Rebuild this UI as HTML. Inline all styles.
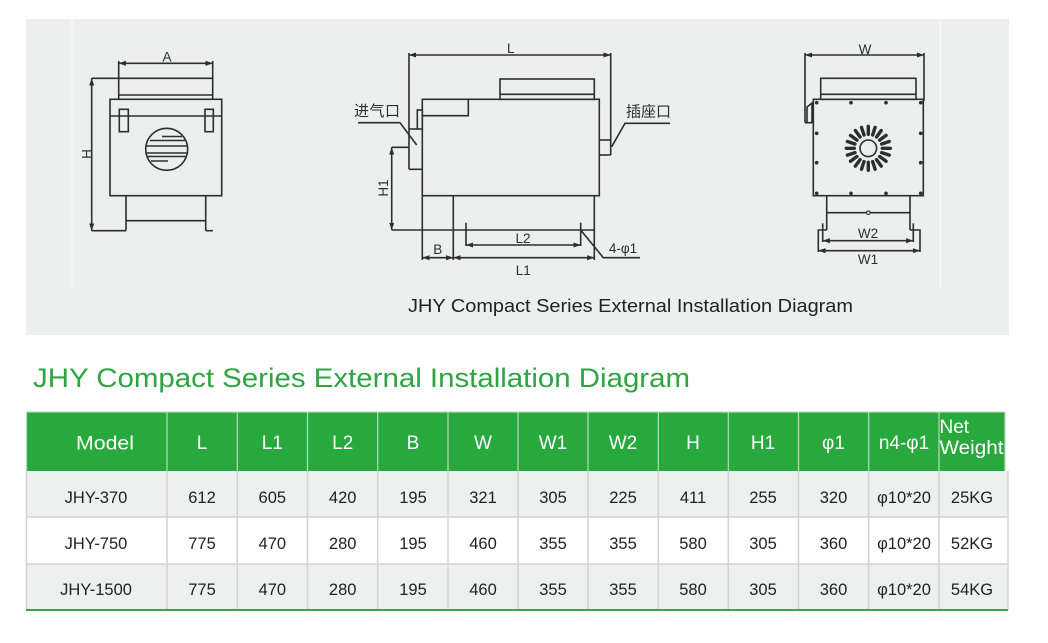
<!DOCTYPE html>
<html><head><meta charset="utf-8"><style>
html,body{margin:0;padding:0;background:#fff;}
svg{display:block;}
text{font-family:"Liberation Sans","Noto Sans CJK SC",sans-serif;}
</style></head><body>
<svg width="1048" height="643" viewBox="0 0 1048 643" xmlns="http://www.w3.org/2000/svg">
<defs>
<marker id="a" viewBox="0 0 10 10" refX="10" refY="5" markerWidth="4.5" markerHeight="4.5" orient="auto-start-reverse"><path d="M0,1.5 L10,5 L0,8.5 z" fill="#2e2e2e"/></marker>
</defs>
<rect x="0" y="0" width="1048" height="643" fill="#fff"/>
<!-- panel -->
<rect x="26" y="19" width="983" height="316" fill="#edeeee"/>
<line x1="72" y1="19" x2="72" y2="289" stroke="#fff" stroke-width="1" opacity="0.8"/>
<line x1="940.5" y1="19" x2="940.5" y2="289" stroke="#fff" stroke-width="1" opacity="0.8"/>

<g stroke="#2e2e2e" stroke-width="1.6" fill="none">
<!-- LEFT DRAWING -->
<line x1="118.7" y1="63.3" x2="212.7" y2="63.3" marker-start="url(#a)" marker-end="url(#a)"/>
<line x1="118.7" y1="61" x2="118.7" y2="99.3"/>
<line x1="212.7" y1="61" x2="212.7" y2="99.3"/>
<line x1="91.7" y1="78.3" x2="212.7" y2="78.3"/>
<line x1="118.7" y1="95" x2="212.7" y2="95"/>
<rect x="110" y="99.3" width="111.7" height="96.4"/>
<line x1="110" y1="116" x2="221.7" y2="116"/>
<rect x="119.3" y="109.3" width="9" height="22.4"/>
<rect x="205" y="109.3" width="8.3" height="22.4"/>
<circle cx="166.7" cy="149.3" r="21"/>
<line x1="162" y1="136.5" x2="182" y2="136.5"/>
<line x1="150" y1="140.5" x2="185" y2="140.5"/>
<line x1="146.2" y1="146" x2="187.2" y2="146"/>
<line x1="146" y1="153" x2="187.4" y2="153"/>
<line x1="147" y1="156.5" x2="186.5" y2="156.5"/>
<line x1="151" y1="161" x2="168" y2="161"/>
<line x1="126" y1="195.7" x2="126" y2="230.7"/>
<line x1="205.7" y1="195.7" x2="205.7" y2="230.7"/>
<line x1="126" y1="220.7" x2="205.7" y2="220.7"/>
<line x1="205.7" y1="230.7" x2="213" y2="230.7"/>
<line x1="91.7" y1="78.3" x2="91.7" y2="230.7" marker-start="url(#a)" marker-end="url(#a)"/>
<line x1="91.7" y1="230.7" x2="126" y2="230.7"/>

<!-- MIDDLE DRAWING -->
<line x1="409" y1="55" x2="610.7" y2="55" marker-start="url(#a)" marker-end="url(#a)"/>
<line x1="409" y1="53" x2="409" y2="169.3"/>
<line x1="409" y1="129" x2="417.3" y2="129"/>
<rect x="417.3" y="110" width="5" height="19"/>
<line x1="409" y1="169.3" x2="422.3" y2="169.3"/>
<line x1="610.7" y1="53" x2="610.7" y2="155"/>
<line x1="599.3" y1="140" x2="610.7" y2="140"/>
<line x1="599.3" y1="155" x2="610.7" y2="155"/>
<rect x="422.3" y="99.3" width="177" height="96.4"/>
<polyline points="422.3,115.7 468.3,115.7 468.3,99.3"/>
<rect x="500" y="79" width="94.3" height="20.3"/>
<line x1="500" y1="94.3" x2="594.3" y2="94.3"/>
<line x1="422.3" y1="195.7" x2="422.3" y2="260"/>
<line x1="453.3" y1="195.7" x2="453.3" y2="260"/>
<line x1="594.3" y1="195.7" x2="594.3" y2="260"/>
<line x1="391.7" y1="230" x2="594.3" y2="230"/>
<line x1="391.7" y1="147.3" x2="391.7" y2="230" marker-start="url(#a)" marker-end="url(#a)"/>
<line x1="391.7" y1="147.3" x2="409" y2="147.3"/>
<line x1="466" y1="222.7" x2="466" y2="246"/>
<line x1="580.7" y1="222.7" x2="580.7" y2="246"/>
<line x1="466" y1="245" x2="580.7" y2="245" marker-start="url(#a)" marker-end="url(#a)"/>
<line x1="422.3" y1="257.7" x2="453.3" y2="257.7" marker-start="url(#a)" marker-end="url(#a)"/>
<line x1="453.3" y1="257.7" x2="594.3" y2="257.7" marker-start="url(#a)" marker-end="url(#a)"/>
<polyline points="580.7,230 603.3,257.7 640,257.7"/>
<polyline points="358,122.7 400,122.7 416.7,145"/>
<polyline points="670,123.3 625,123.3 611.7,146.7"/>

<!-- RIGHT DRAWING -->
<line x1="805" y1="55" x2="924" y2="55" marker-start="url(#a)" marker-end="url(#a)"/>
<line x1="805" y1="53" x2="805" y2="122.7"/>
<line x1="924" y1="53" x2="924" y2="100.7"/>
<path d="M805,122.7 L812,122.7 L812,103 L807,107 L807,122.7"/>
<rect x="820.7" y="78.3" width="95.3" height="21"/>
<line x1="820.7" y1="94.3" x2="916" y2="94.3"/>
<rect x="813.3" y="99.3" width="110" height="96.4"/>
<circle cx="868.3" cy="148.3" r="8.3"/>
<line x1="826.7" y1="195.7" x2="826.7" y2="230"/>
<line x1="910" y1="195.7" x2="910" y2="230"/>
<line x1="826.7" y1="212.7" x2="910" y2="212.7"/>
<polyline points="826.7,230 818.3,230 818.3,252"/>
<polyline points="910,230 920,230 920,252"/>
<line x1="822.7" y1="223.3" x2="822.7" y2="242"/>
<line x1="913.3" y1="223.3" x2="913.3" y2="242"/>
<line x1="822.7" y1="240.7" x2="913.3" y2="240.7" marker-start="url(#a)" marker-end="url(#a)"/>
<line x1="818.3" y1="250.7" x2="920" y2="250.7" marker-start="url(#a)" marker-end="url(#a)"/>
</g>
<!-- bolts -->
<g fill="#2e2e2e">
<circle cx="816.7" cy="102.7" r="1.8"/><circle cx="851" cy="102.7" r="1.8"/><circle cx="886" cy="102.7" r="1.8"/><circle cx="920.7" cy="102.7" r="1.8"/>
<circle cx="816.7" cy="193.3" r="1.8"/><circle cx="851" cy="193.3" r="1.8"/><circle cx="886" cy="193.3" r="1.8"/><circle cx="920.7" cy="193.3" r="1.8"/>
<circle cx="816.7" cy="133.3" r="1.8"/><circle cx="816.7" cy="162.7" r="1.8"/>
<circle cx="920.7" cy="133.3" r="1.8"/><circle cx="920.7" cy="162.7" r="1.8"/>
</g>
<circle cx="868.3" cy="212.7" r="1.8" fill="#edeeee" stroke="#2e2e2e" stroke-width="1.1"/>
<!-- fan slots -->
<g stroke="#2e2e2e" stroke-width="3.4" stroke-linecap="round" transform="translate(868.3,148.3)">
<line x1="0" y1="-14" x2="0" y2="-22" transform="rotate(0)"/>
<line x1="0" y1="-14" x2="0" y2="-22" transform="rotate(18)"/>
<line x1="0" y1="-14" x2="0" y2="-22" transform="rotate(36)"/>
<line x1="0" y1="-14" x2="0" y2="-22" transform="rotate(54)"/>
<line x1="0" y1="-14" x2="0" y2="-22" transform="rotate(72)"/>
<line x1="0" y1="-14" x2="0" y2="-22" transform="rotate(90)"/>
<line x1="0" y1="-14" x2="0" y2="-22" transform="rotate(108)"/>
<line x1="0" y1="-14" x2="0" y2="-22" transform="rotate(126)"/>
<line x1="0" y1="-14" x2="0" y2="-22" transform="rotate(144)"/>
<line x1="0" y1="-14" x2="0" y2="-22" transform="rotate(162)"/>
<line x1="0" y1="-14" x2="0" y2="-22" transform="rotate(180)"/>
<line x1="0" y1="-14" x2="0" y2="-22" transform="rotate(198)"/>
<line x1="0" y1="-14" x2="0" y2="-22" transform="rotate(216)"/>
<line x1="0" y1="-14" x2="0" y2="-22" transform="rotate(234)"/>
<line x1="0" y1="-14" x2="0" y2="-22" transform="rotate(252)"/>
<line x1="0" y1="-14" x2="0" y2="-22" transform="rotate(270)"/>
<line x1="0" y1="-14" x2="0" y2="-22" transform="rotate(288)"/>
<line x1="0" y1="-14" x2="0" y2="-22" transform="rotate(306)"/>
<line x1="0" y1="-14" x2="0" y2="-22" transform="rotate(324)"/>
<line x1="0" y1="-14" x2="0" y2="-22" transform="rotate(342)"/>
</g>

<!-- drawing labels -->
<g fill="#2e2e2e" font-size="13.5" text-anchor="middle">
<text x="167" y="61.5">A</text>
<text transform="translate(91.5,154) rotate(-90)">H</text>
<text x="510.7" y="53">L</text>
<text transform="translate(388,188) rotate(-90)">H1</text>
<text x="523" y="243">L2</text>
<text x="437.7" y="254">B</text>
<text x="523.3" y="275">L1</text>
<text x="623" y="253">4-φ1</text>
<text x="865" y="54">W</text>
<text x="868" y="238">W2</text>
<text x="868" y="264">W1</text>
</g>
<g fill="#2e2e2e" font-size="15" font-family="'Noto Sans CJK SC',sans-serif">
<text x="354" y="116" textLength="46">进气口</text>
<text x="626" y="116.5" textLength="45">插座口</text>
</g>
<text x="408" y="312" font-size="18" fill="#222" textLength="445" lengthAdjust="spacingAndGlyphs">JHY Compact Series External Installation Diagram</text>

<!-- title -->
<text x="33" y="387" font-size="27" fill="#2ea443" textLength="657" lengthAdjust="spacingAndGlyphs">JHY Compact Series External Installation Diagram</text>

<!-- table -->
<rect x="26" y="412" width="979" height="59" fill="#28a93d"/>
<rect x="26" y="471" width="982" height="46" fill="#eeefef"/>
<rect x="26" y="517" width="982" height="47" fill="#ffffff"/>
<rect x="26" y="564" width="982" height="46" fill="#eeefef"/>
<g stroke="#bcd8bf" stroke-width="1.2">
<line x1="26" y1="412" x2="1005" y2="412"/>
<line x1="26.5" y1="412" x2="26.5" y2="471"/>
<line x1="167" y1="412" x2="167" y2="471"/>
<line x1="237.3" y1="412" x2="237.3" y2="471"/>
<line x1="307.5" y1="412" x2="307.5" y2="471"/>
<line x1="377.7" y1="412" x2="377.7" y2="471"/>
<line x1="448" y1="412" x2="448" y2="471"/>
<line x1="518" y1="412" x2="518" y2="471"/>
<line x1="588" y1="412" x2="588" y2="471"/>
<line x1="658.3" y1="412" x2="658.3" y2="471"/>
<line x1="728.3" y1="412" x2="728.3" y2="471"/>
<line x1="798.5" y1="412" x2="798.5" y2="471"/>
<line x1="868.7" y1="412" x2="868.7" y2="471"/>
<line x1="939" y1="412" x2="939" y2="471"/>
<line x1="1005" y1="412" x2="1005" y2="471"/>
</g>
<g stroke="#d2d2d2" stroke-width="1.5">
<line x1="26" y1="517" x2="1008" y2="517"/>
<line x1="26" y1="564" x2="1008" y2="564"/>
<line x1="26.5" y1="471" x2="26.5" y2="610"/>
<line x1="167" y1="471" x2="167" y2="610"/>
<line x1="237.3" y1="471" x2="237.3" y2="610"/>
<line x1="307.5" y1="471" x2="307.5" y2="610"/>
<line x1="377.7" y1="471" x2="377.7" y2="610"/>
<line x1="448" y1="471" x2="448" y2="610"/>
<line x1="518" y1="471" x2="518" y2="610"/>
<line x1="588" y1="471" x2="588" y2="610"/>
<line x1="658.3" y1="471" x2="658.3" y2="610"/>
<line x1="728.3" y1="471" x2="728.3" y2="610"/>
<line x1="798.5" y1="471" x2="798.5" y2="610"/>
<line x1="868.7" y1="471" x2="868.7" y2="610"/>
<line x1="939" y1="471" x2="939" y2="610"/>
<line x1="1008" y1="471" x2="1008" y2="610"/>
</g>
<line x1="26" y1="610" x2="1008" y2="610" stroke="#3aa84a" stroke-width="2"/>

<g fill="#fff" font-size="19" text-anchor="middle">
<text x="105" y="449.5" textLength="58" lengthAdjust="spacingAndGlyphs">Model</text>
<text x="202" y="449">L</text>
<text x="272.3" y="449">L1</text>
<text x="342.7" y="449">L2</text>
<text x="413" y="449">B</text>
<text x="483" y="449">W</text>
<text x="553" y="449">W1</text>
<text x="623" y="449">W2</text>
<text x="693" y="449">H</text>
<text x="763" y="449">H1</text>
<text x="833.5" y="449">φ1</text>
<text x="904" y="449">n4-φ1</text>
</g>
<g fill="#fff" font-size="19">
<text x="939.5" y="433">Net</text>
<text x="939.5" y="454" textLength="64" lengthAdjust="spacingAndGlyphs">Weight</text>
</g>

<g fill="#222" font-size="16.5" text-anchor="middle">
<text x="96" y="503">JHY-370</text>
<text x="202" y="503">612</text>
<text x="272.3" y="503">605</text>
<text x="342.7" y="503">420</text>
<text x="413" y="503">195</text>
<text x="483" y="503">321</text>
<text x="553" y="503">305</text>
<text x="623" y="503">225</text>
<text x="693" y="503">411</text>
<text x="763" y="503">255</text>
<text x="833.5" y="503">320</text>
<text x="904" y="503">φ10*20</text>
<text x="972" y="503">25KG</text>

<text x="96" y="549">JHY-750</text>
<text x="202" y="549">775</text>
<text x="272.3" y="549">470</text>
<text x="342.7" y="549">280</text>
<text x="413" y="549">195</text>
<text x="483" y="549">460</text>
<text x="553" y="549">355</text>
<text x="623" y="549">355</text>
<text x="693" y="549">580</text>
<text x="763" y="549">305</text>
<text x="833.5" y="549">360</text>
<text x="904" y="549">φ10*20</text>
<text x="972" y="549">52KG</text>

<text x="96" y="595">JHY-1500</text>
<text x="202" y="595">775</text>
<text x="272.3" y="595">470</text>
<text x="342.7" y="595">280</text>
<text x="413" y="595">195</text>
<text x="483" y="595">460</text>
<text x="553" y="595">355</text>
<text x="623" y="595">355</text>
<text x="693" y="595">580</text>
<text x="763" y="595">305</text>
<text x="833.5" y="595">360</text>
<text x="904" y="595">φ10*20</text>
<text x="972" y="595">54KG</text>
</g>
</svg>
</body></html>
